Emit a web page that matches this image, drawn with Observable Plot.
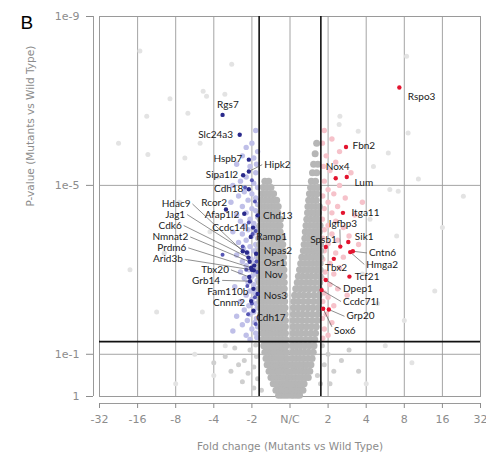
<!DOCTYPE html>
<html><head><meta charset="utf-8">
<script src="https://cdn.jsdelivr.net/npm/d3@7"></script>
<script src="https://cdn.jsdelivr.net/npm/@observablehq/plot@0.6"></script>
<style>body{margin:0;background:#fff;}</style>
</head><body><div id="chart"></div>
<script>
// x = signed log2 fold change, y = -log10(p)
const xTicks = [-5,-4,-3,-2,-1,0,1,2,3,4,5];
const xTickLabels = ["-32","-16","-8","-4","-2","N/C","2","4","8","16","32"];
const yTicks = [9,5,1,0];
const yTickLabels = ["1e-9","1e-5","1e-1","1"];
const fcThreshold = 0.81;   // |fold change| = 1.75
const pThreshold = 1.3;     // p = 0.05

// dense grey (non-significant) cloud: [y, [x values]]
const greyRows = [
 [0.03,[-0.3,-0.22,-0.14,-0.06,0.03,0.1,0.18,0.25]],
 [0.15,[-0.37,-0.29,-0.21,-0.13,-0.05,0.04,0.12,0.2,0.28,0.34]],
 [0.3,[-0.44,-0.36,-0.28,-0.2,-0.12,-0.05,0.05,0.13,0.21,0.29,0.37]],
 [0.45,[-0.5,-0.42,-0.34,-0.26,-0.18,-0.1,-0.04,0.05,0.14,0.23,0.32,0.41,0.48]],
 [0.6,[-0.55,-0.47,-0.39,-0.31,-0.23,-0.15,-0.07,0.06,0.15,0.24,0.33,0.42,0.52]],
 [0.75,[-0.6,-0.52,-0.44,-0.36,-0.28,-0.2,-0.12,-0.05,0.06,0.15,0.24,0.34,0.44,0.55]],
 [0.9,[-0.63,-0.55,-0.47,-0.39,-0.31,-0.23,-0.15,-0.07,0.06,0.16,0.26,0.36,0.47,0.58]],
 [1.05,[-0.66,-0.58,-0.5,-0.42,-0.34,-0.26,-0.18,-0.1,0.07,0.17,0.27,0.38,0.49,0.61]],
 [1.2,[-0.69,-0.61,-0.53,-0.45,-0.37,-0.28,-0.19,-0.1,0.07,0.17,0.28,0.39,0.51,0.63]],
 [1.35,[-0.71,-0.63,-0.55,-0.47,-0.38,-0.29,-0.2,-0.11,0.07,0.18,0.29,0.41,0.53,0.65]],
 [1.5,[-0.73,-0.65,-0.57,-0.48,-0.39,-0.3,-0.21,-0.12,0.08,0.19,0.3,0.42,0.55,0.67]],
 [1.65,[-0.75,-0.67,-0.58,-0.49,-0.4,-0.31,-0.22,-0.12,0.08,0.19,0.31,0.43,0.56,0.69]],
 [1.8,[-0.76,-0.68,-0.59,-0.5,-0.41,-0.32,-0.22,-0.12,0.08,0.2,0.32,0.45,0.58,0.71]],
 [1.95,[-0.77,-0.69,-0.6,-0.51,-0.42,-0.33,-0.23,-0.13,0.09,0.21,0.33,0.46,0.59,0.73]],
 [2.1,[-0.78,-0.7,-0.61,-0.52,-0.43,-0.33,-0.23,-0.13,0.09,0.21,0.34,0.47,0.6,0.74]],
 [2.25,[-0.79,-0.7,-0.61,-0.52,-0.43,-0.34,-0.24,-0.14,0.1,0.22,0.35,0.48,0.62,0.75]],
 [2.4,[-0.8,-0.71,-0.62,-0.53,-0.44,-0.34,-0.24,-0.14,0.12,0.24,0.36,0.49,0.63,0.76]],
 [2.55,[-0.8,-0.71,-0.62,-0.53,-0.44,-0.35,-0.25,-0.15,0.15,0.27,0.39,0.51,0.64,0.77]],
 [2.7,[-0.8,-0.71,-0.62,-0.53,-0.44,-0.35,-0.25,-0.15,0.19,0.3,0.42,0.54,0.66,0.78]],
 [2.85,[-0.8,-0.71,-0.62,-0.53,-0.44,-0.35,-0.26,-0.16,0.22,0.33,0.45,0.56,0.68,0.79]],
 [3.0,[-0.8,-0.71,-0.62,-0.53,-0.44,-0.35,-0.26,-0.16,0.25,0.36,0.47,0.58,0.69,0.79]],
 [3.15,[-0.8,-0.71,-0.62,-0.53,-0.44,-0.35,-0.26,-0.17,0.28,0.39,0.5,0.6,0.7,0.79]],
 [3.3,[-0.8,-0.71,-0.62,-0.53,-0.44,-0.35,-0.26,-0.17,0.31,0.42,0.52,0.62,0.71,0.8]],
 [3.45,[-0.8,-0.71,-0.62,-0.53,-0.44,-0.35,-0.26,-0.18,0.35,0.45,0.55,0.64,0.72,0.8]],
 [3.6,[-0.8,-0.71,-0.62,-0.53,-0.44,-0.35,-0.27,-0.19,0.37,0.47,0.57,0.66,0.74,0.8]],
 [3.75,[-0.8,-0.71,-0.62,-0.53,-0.44,-0.35,-0.27,-0.2,0.39,0.49,0.59,0.68,0.76]],
 [3.9,[-0.79,-0.7,-0.61,-0.52,-0.43,-0.34,-0.26,0.4,0.5,0.6,0.69,0.77]],
 [4.05,[-0.79,-0.7,-0.61,-0.52,-0.43,-0.34,-0.26,0.42,0.52,0.62,0.71,0.79]],
 [4.2,[-0.78,-0.69,-0.6,-0.51,-0.42,-0.33,-0.25,0.44,0.54,0.64,0.73]],
 [4.35,[-0.77,-0.68,-0.59,-0.5,-0.41,-0.32,0.46,0.56,0.66,0.75]],
 [4.5,[-0.76,-0.67,-0.58,-0.49,-0.4,-0.31,0.47,0.57,0.67,0.77]],
 [4.65,[-0.75,-0.65,-0.55,-0.45,-0.35,0.49,0.59,0.69]],
 [4.8,[-0.73,-0.63,-0.53,-0.43,0.51,0.61,0.71]],
 [4.95,[-0.7,-0.6,-0.5,0.54,0.64,0.74]],
 [5.1,[-0.66,-0.56,0.56,0.67]],
 [5.3,[0.59,0.7]],
 [5.5,[0.62,0.73]],
 [5.75,[0.66]],
 [6.0,[0.7]]
];
// scattered grey points beyond the fold threshold but not significant
const greyExtra = [[-0.9,1.22],[-1.05,1.1],[-0.88,0.95],[-1.2,0.85],[-0.95,0.7],[-1.35,0.75],[-1.1,0.55],[-0.85,0.42],[-1.55,0.6],[-1.25,0.35],[-0.95,0.2],[-1.7,0.95],[-2.0,0.8],[-1.45,1.15],[-0.75,0.15],[0.72,0.5],[0.85,1.2],[1.0,1.0],[0.9,0.75],[1.15,0.6],[0.8,0.3],[1.35,0.85],[1.05,0.3],[1.55,1.1],[1.8,0.6]];
// very faint background points
const faintPts = [[-3.94,8.18],[-3.15,7.05],[-2.28,7.23],[-2.19,7.11],[-1.53,7.87],[-3.76,6.64],[-2.76,5.65],[-3.73,5.73],[-2.36,6.0],[-1.71,7.16],[-2.68,6.71],[3.06,8.06],[1.31,6.64],[1.29,6.44],[1.79,6.28],[2.58,5.77],[3.1,6.24],[3.37,5.15],[4.55,4.74],[2.84,4.86],[2.62,4.9],[2.19,5.45],[-2.5,1.0],[-2.0,0.5],[-3.0,0.3],[-1.7,1.2],[-2.3,2.0],[-3.3,3.4],[-2.9,4.6],[-4.2,3.0],[2.5,1.2],[3.2,0.8],[2.0,0.3],[3.8,2.5],[2.8,3.8],[4.0,4.0],[2.3,2.2],[3.0,1.8],[-4.5,6.0],[-3.5,2.0],[-1.9,5.2],[-2.1,3.9],[2.1,4.2],[1.9,2.9]];
// significant down (light blue) and up (light pink) points
const downPts = [[-0.9,6.3],[-1.0,6.0],[-1.15,5.9],[-0.85,5.8],[-1.25,5.7],[-0.95,5.65],[-1.4,5.5],[-0.88,5.5],[-1.05,5.45],[-0.9,5.3],[-1.15,5.2],[-1.3,5.1],[-0.95,5.05],[-1.5,5.0],[-0.85,4.95],[-1.2,4.85],[-1.0,4.8],[-1.35,4.75],[-0.9,4.7],[-1.1,4.65],[-1.55,4.6],[-0.85,4.55],[-1.25,4.5],[-1.0,4.45],[-0.9,4.4],[-1.15,4.35],[-1.4,4.3],[-0.85,4.25],[-1.05,4.2],[-1.3,4.15],[-0.95,4.1],[-1.2,4.05],[-0.88,4.0],[-1.1,3.95],[-1.5,3.9],[-0.92,3.88],[-1.25,3.85],[-1.0,3.8],[-0.85,3.75],[-1.15,3.7],[-1.35,3.65],[-0.9,3.6],[-1.05,3.55],[-1.22,3.5],[-0.86,3.5],[-0.95,3.45],[-1.12,3.4],[-1.4,3.35],[-0.88,3.3],[-1.02,3.25],[-1.25,3.2],[-0.92,3.15],[-1.15,3.1],[-0.85,3.05],[-1.08,3.0],[-1.3,2.95],[-0.9,2.9],[-1.0,2.85],[-1.2,2.8],[-0.86,2.75],[-1.1,2.7],[-0.95,2.65],[-1.45,2.6],[-0.88,2.55],[-1.05,2.5],[-0.92,2.45],[-1.15,2.4],[-0.85,2.35],[-1.0,2.3],[-1.3,2.25],[-0.9,2.2],[-1.08,2.15],[-0.86,2.1],[-1.2,2.05],[-0.95,2.0],[-1.05,1.95],[-1.4,1.9],[-0.88,1.85],[-1.12,1.8],[-0.93,1.75],[-1.25,1.7],[-0.85,1.65],[-1.0,1.6],[-1.5,1.55],[-0.9,1.5],[-1.15,1.45],[-0.87,1.4],[-1.05,1.35]];
const upPts = [[0.9,6.3],[1.1,6.1],[0.85,6.0],[1.3,5.8],[0.95,5.7],[1.2,5.55],[0.88,5.45],[1.05,5.35],[1.6,5.3],[0.9,5.1],[1.3,5.0],[1.0,4.9],[1.15,4.8],[0.86,4.75],[1.45,4.7],[1.0,4.6],[1.25,4.5],[0.9,4.45],[1.1,4.35],[1.7,4.3],[0.85,4.2],[1.2,4.15],[1.0,4.05],[1.4,4.0],[0.9,3.95],[1.1,3.85],[1.55,3.8],[0.86,3.75],[1.25,3.7],[1.0,3.62],[0.9,3.45],[1.2,3.4],[1.4,3.3],[0.86,3.25],[1.05,3.15],[1.3,3.05],[0.92,2.95],[1.15,2.9],[0.85,2.8],[1.05,2.65],[1.25,2.55],[0.9,2.45],[1.0,2.35],[0.86,2.25],[1.15,2.15],[0.95,1.95],[0.85,1.85],[1.1,1.75],[0.9,1.6],[1.0,1.45],[0.86,1.38],[1.8,3.6],[1.9,4.6],[1.5,2.4]];
// medium blue points among the down cloud
const midBluePts = [[-0.92,4.62],[-1.08,4.12],[-0.9,3.92],[-1.24,3.55],[-0.98,3.85],[-0.88,3.2],[-1.12,2.62],[-0.92,2.35],[-1.1,1.95],[-0.9,1.72],[-1.18,4.95],[-1.0,5.12],[-0.86,2.95],[-1.0,2.2],[-1.15,3.0],[-1.77,3.36]];

// labelled genes: [name, x, y]
const downGenes = [["Rgs7",-1.77,6.67],["Slc24a3",-1.32,6.2],["Hspb7",-1.08,5.61],["Hipk2",-1.08,5.33],["Sipa1l2",-1.23,5.24],["Cdh18",-1.08,4.91],["Rcor2",-1.68,4.43],["Afap1l2",-1.2,4.33],["Chd13",-0.85,4.29],["Ccdc14l",-0.97,4.0],["Ramp1",-1.03,3.78],["Hdac9",-1.24,3.44],["Jag1",-1.13,3.41],["Npas2",-0.89,3.38],["Cdk6",-1.09,3.29],["Nmnat2",-1.06,3.19],["Osr1",-0.94,3.1],["Prdm6",-1.02,3.05],["Arid3b",-1.0,3.0],["Nov",-0.95,2.99],["Tbx20",-1.07,2.83],["Grb14",-1.05,2.73],["Fam110b",-0.96,2.55],["Nos3",-0.85,2.43],["Cnnm2",-1.02,2.26],["Cdh17",-0.96,2.03]];
const upGenes = [["Rspo3",2.87,7.32],["Fbn2",1.47,5.91],["Lum",1.49,5.2],["Nox4",1.2,5.17],["Itga11",1.39,4.35],["Sik1",1.53,3.66],["Igfbp3",1.32,3.55],["Spsb1",0.94,3.54],["Cntn6",1.65,3.44],["Hmga2",1.58,3.42],["Tbx2",1.15,3.26],["Tcf21",1.56,2.84],["Dpep1",0.94,2.76],["Ccdc71l",0.83,2.52],["Grp20",1.02,2.06],["Sox6",0.87,2.08]];

// label placement: [name, labelX, labelY, anchor, leader]
const labelLayout = [
 ["Rgs7",-1.63,6.92,"middle",0],["Slc24a3",-1.44,6.2,"end",0],["Hspb7",-1.2,5.63,"end",0],
 ["Hipk2",-0.73,5.49,"start",1],["Sipa1l2",-1.31,5.26,"end",0],["Cdh18",-1.17,4.91,"end",0],
 ["Rcor2",-1.99,4.58,"middle",0],["Afap1l2",-1.28,4.31,"end",0],["Chd13",-0.76,4.29,"start",0],
 ["Ccdc14l",-1.05,4.0,"end",0],["Ramp1",-0.94,3.78,"start",0],["Npas2",-0.74,3.45,"start",0],
 ["Osr1",-0.74,3.16,"start",0],["Nov",-0.72,2.88,"start",0],["Nos3",-0.74,2.38,"start",0],
 ["Cdh17",-0.94,1.86,"start",0],["Hdac9",-2.56,4.56,"end",1],["Jag1",-2.7,4.31,"end",1],
 ["Cdk6",-2.79,4.05,"end",1],["Nmnat2",-2.62,3.78,"end",1],["Prdm6",-2.67,3.52,"end",1],
 ["Arid3b",-2.76,3.25,"end",1],["Tbx20",-1.55,3.0,"end",1],["Grb14",-1.78,2.75,"end",1],
 ["Fam110b",-1.04,2.47,"end",0],["Cnnm2",-1.13,2.21,"end",0],
 ["Rspo3",3.04,7.09,"start",0],["Fbn2",1.59,5.94,"start",0],["Nox4",1.25,5.43,"middle",0],
 ["Lum",1.64,5.05,"start",0],["Itga11",1.56,4.35,"start",0],["Igfbp3",1.39,4.09,"middle",1],
 ["Sik1",1.65,3.78,"start",0],["Spsb1",0.88,3.71,"middle",0],["Cntn6",2.02,3.4,"start",1],
 ["Hmga2",1.95,3.13,"start",1],["Tbx2",1.21,3.06,"middle",0],["Tcf21",1.65,2.84,"start",0],
 ["Dpep1",1.34,2.54,"start",1],["Ccdc71l",1.34,2.25,"start",1],["Grp20",1.43,1.9,"start",1],
 ["Sox6",1.44,1.55,"middle",1]
];
// leader start points for labels whose leader does not begin at the text edge
const leaderStarts = {Igfbp3:[1.31,3.96], Sox6:[1.1,1.65]};

const xTitle = "Fold change (Mutants vs Wild Type)";
const yTitle = "P-value (Mutants vs Wild Type)";
const panelLetter = "B";

// ---- build tables ----
const pts = a => a.map(([x,y]) => ({x,y}));
const greyPts = greyRows.flatMap(([y,xs]) => xs.map(x => ({x,y})));
const genes = [...downGenes, ...upGenes].map(([name,x,y]) => ({name,x,y}));
const geneBy = new Map(genes.map(g => [g.name, g]));
const labels = labelLayout.map(([name,tx,ty,anchor,leader]) => ({name,tx,ty,anchor,leader}));
const leaders = labels.filter(d => d.leader).map(d => {
  const g = geneBy.get(d.name);
  const s = leaderStarts[d.name] || [d.tx, d.ty];
  return {x1:s[0], y1:s[1], x2:g.x, y2:g.y};
});
const labelFont = "Lato, 'Open Sans', sans-serif";
const axisFont = "'DejaVu Sans', Verdana, sans-serif";
const textMark = (anchor, dx) => Plot.text(labels.filter(d => d.anchor === anchor), {
  x:"tx", y:"ty", text:"name", textAnchor:anchor, dx, fill:"#1a1a1a", fontSize:10, fontFamily:labelFont
});

const chart = Plot.plot({
  width:486, height:460,
  marginLeft:99, marginRight:6, marginTop:16, marginBottom:64,
  x:{domain:[-5,5], axis:null},
  y:{domain:[0,9], axis:null},
  style:{background:"#fff"},
  marks:[
    Plot.gridX(xTicks, {stroke:"#9a9a9a", strokeOpacity:1, strokeWidth:0.9}),
    Plot.gridY([5,1], {stroke:"#9a9a9a", strokeOpacity:1, strokeWidth:0.9}),
    Plot.frame({stroke:"#9a9a9a", strokeWidth:1}),
    Plot.dot(pts(faintPts), {x:"x", y:"y", r:2.5, fill:"#e3e3e3"}),
    Plot.dot(pts(greyExtra), {x:"x", y:"y", r:2.5, fill:"#cfcfcf"}),
    Plot.dot(pts(downPts), {x:"x", y:"y", r:2.7, fill:"#bfbfe8"}),
    Plot.dot(pts(upPts), {x:"x", y:"y", r:2.7, fill:"#f6c2ca"}),
    Plot.dot(greyPts, {x:"x", y:"y", r:3.5, fill:"#b6b6b6"}),
    Plot.dot(pts(midBluePts), {x:"x", y:"y", r:2, fill:"#5656b4"}),
    Plot.ruleX([-fcThreshold, fcThreshold], {stroke:"#111", strokeWidth:1.6}),
    Plot.ruleY([pThreshold], {stroke:"#111", strokeWidth:1.6}),
    Plot.link(leaders, {x1:"x1", y1:"y1", x2:"x2", y2:"y2", stroke:"#444", strokeWidth:0.6}),
    Plot.dot(genes.slice(0, downGenes.length), {x:"x", y:"y", r:2.2, fill:"#2a2a8c"}),
    Plot.dot(genes.slice(downGenes.length), {x:"x", y:"y", r:2.2, fill:"#e3142f"}),
    textMark("end", -2), textMark("start", 2), textMark("middle", 0),
    // axes
    Plot.ruleY([0], {dy:7, stroke:"#9a9a9a"}),
    Plot.axisX(xTicks, {anchor:"bottom", dy:7, tickSize:5, tickPadding:7, color:"#8c8c8c",
      fontSize:11, fontFamily:axisFont, label:null, tickFormat:d => xTickLabels[xTicks.indexOf(d)]}),
    Plot.ruleX([-5], {dx:-6, stroke:"#9a9a9a"}),
    Plot.axisY(yTicks, {anchor:"left", dx:-6, tickSize:7, tickPadding:7, color:"#8c8c8c",
      fontSize:11, fontFamily:axisFont, label:null, tickFormat:d => yTickLabels[yTicks.indexOf(d)]}),
    Plot.text([xTitle], {frameAnchor:"bottom", dy:53, text:d => d, fill:"#8c8c8c", fontSize:10.5, fontFamily:axisFont}),
    Plot.text([yTitle], {frameAnchor:"left", dx:-69, rotate:-90, text:d => d, fill:"#8c8c8c", fontSize:10.5, fontFamily:axisFont}),
    Plot.text([panelLetter], {frameAnchor:"top-left", dx:-79, dy:-1, textAnchor:"start", text:d => d, fill:"#000", fontSize:19, fontFamily:"'Liberation Sans', Arial, sans-serif"})
  ]
});
document.getElementById("chart").appendChild(chart);
</script>
</body></html>
